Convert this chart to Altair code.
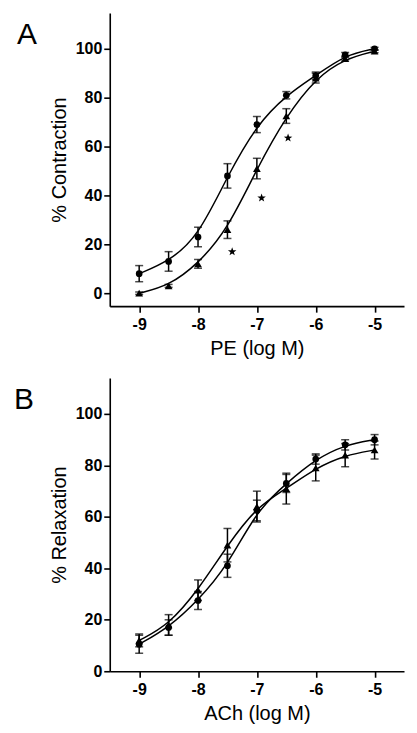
import altair as alt
import pandas as pd

log_conc = [-9, -8.5, -8, -7.5, -7, -6.5, -6, -5.5, -5]
groups = ["Control", "U-HFD"]

# Panel A: PE contraction (%), mean and SEM
pe_control = [8, 13, 23, 48, 69, 81, 89, 97.5, 100]
pe_control_err = [3.3, 4, 4, 5, 3.3, 1.5, 1.5, 1, 0.6]
pe_hfd = [0, 3, 12, 26, 51, 72.5, 88, 96, 99]
pe_hfd_err = [0.5, 0.6, 1.8, 3.6, 4.2, 3.0, 2.0, 1.0, 0.6]
star_x = [-7.42, -6.92, -6.47]
star_y = [17, 39, 63.5]

# Panel B: ACh relaxation (%), mean and SEM
ach_control = [10.5, 17, 27.5, 41, 62.5, 73, 82.5, 88, 90]
ach_control_err = [3.5, 3, 3.5, 4.5, 4, 3.5, 2, 2, 2]
ach_hfd = [12, 18, 31.5, 49, 64, 71, 79, 84, 86]
ach_hfd_err = [2.5, 4, 4, 6.5, 6, 6, 5, 4.5, 3.5]

x_ticks = [-9, -8, -7, -6, -5]
y_ticks = [0, 20, 40, 60, 80, 100]

FONT = "Liberation Sans"
STAR = "M0,-1L0.235,-0.324L0.951,-0.309L0.38,0.124L0.588,0.809L0,0.4L-0.588,0.809L-0.38,0.124L-0.951,-0.309L-0.235,-0.324Z"


def make_df(ctrl, ctrl_err, hfd, hfd_err):
    rows = []
    for g, means, errs in ((groups[0], ctrl, ctrl_err), (groups[1], hfd, hfd_err)):
        for x, m, e in zip(log_conc, means, errs):
            rows.append({"x": x, "group": g, "mean": m, "lo": m - e, "hi": m + e})
    return pd.DataFrame(rows)


def panel(df, letter, letter_x, xtitle, ytitle, ydomain, legend_x, legend_y, stars=None):
    xs = alt.Scale(domain=[-9.5, -4.5], nice=False, zero=False)
    ys = alt.Scale(domain=ydomain, nice=False, zero=False)
    xax = alt.Axis(values=x_ticks, title=xtitle, labelExpr="'' + datum.value")
    yax = alt.Axis(values=y_ticks, title=ytitle)
    X = alt.X("x:Q", scale=xs, axis=xax)
    base = alt.Chart(df)
    line = base.mark_line(interpolate="basis", color="black", strokeWidth=1.5).encode(
        x=X, y=alt.Y("mean:Q", scale=ys, axis=yax), detail="group:N"
    )
    rule = base.mark_rule(color="black", strokeWidth=1.5).encode(
        x="x:Q", y="lo:Q", y2="hi:Q", detail="group:N"
    )
    cap_lo = base.mark_tick(orient="horizontal", size=8, thickness=1.5, color="black").encode(
        x="x:Q", y="lo:Q"
    )
    cap_hi = base.mark_tick(orient="horizontal", size=8, thickness=1.5, color="black").encode(
        x="x:Q", y="hi:Q"
    )
    pts = base.mark_point(filled=True, opacity=1, color="black").encode(
        x="x:Q",
        y="mean:Q",
        size=alt.Size("group:N", scale=alt.Scale(domain=groups, range=[45, 60]), legend=None),
        shape=alt.Shape(
            "group:N",
            scale=alt.Scale(domain=groups, range=["circle", "triangle-up"]),
            legend=alt.Legend(
                title=None,
                orient="none",
                legendX=legend_x,
                legendY=legend_y,
                labelFont=FONT,
                labelFontSize=15,
                labelColor="#333333",
                symbolFillColor="black",
                symbolStrokeColor="black",
                symbolSize=32,
                labelOffset=13,
                rowPadding=8,
                padding=0,
            ),
        ),
    )
    lab = alt.Chart(pd.DataFrame({"t": [letter]})).mark_text(
        font=FONT, fontSize=30, align="center", baseline="middle", color="black"
    ).encode(text="t:N", x=alt.value(letter_x), y=alt.value(22))
    layers = [line, rule, cap_lo, cap_hi, pts]
    if stars is not None:
        sdf = pd.DataFrame({"x": stars[0], "y": stars[1]})
        layers.append(
            alt.Chart(sdf).mark_point(shape=STAR, filled=True, opacity=1, color="black", size=80).encode(
                x="x:Q", y="y:Q"
            )
        )
    layers.append(lab)
    return alt.layer(*layers).properties(width=295, height=294)


pa = panel(make_df(pe_control, pe_control_err, pe_hfd, pe_hfd_err), "A", -83,
           "PE (log M)", "% Contraction", [-5.3, 114.7], 28, 33, stars=(star_x, star_y))
pb = panel(make_df(ach_control, ach_control_err, ach_hfd, ach_hfd_err), "B", -86,
           "ACh (log M)", "% Relaxation", [0, 114], 27, 40)

chart = alt.vconcat(pa, pb, spacing=20).resolve_legend(shape="independent", size="independent").resolve_scale(
    shape="independent", size="independent", x="independent", y="independent"
).properties(padding={"left": 5, "top": 4, "right": 5, "bottom": 5}).configure_view(
    stroke=None
).configure_axis(
    grid=False,
    domainColor="black",
    domainWidth=1.6,
    tickColor="black",
    tickWidth=1.6,
    tickSize=6,
    labelFont=FONT,
    labelFontSize=16,
    labelFontWeight="bold",
    labelColor="black",
    labelPadding=2,
    titleFont=FONT,
    titleFontSize=20,
    titleFontWeight="normal",
    titleColor="black",
).configure_axisX(labelPadding=4, titlePadding=6).configure_axisY(titlePadding=6)

chart.save("out.html", embed_options={"renderer": "svg", "actions": False})
